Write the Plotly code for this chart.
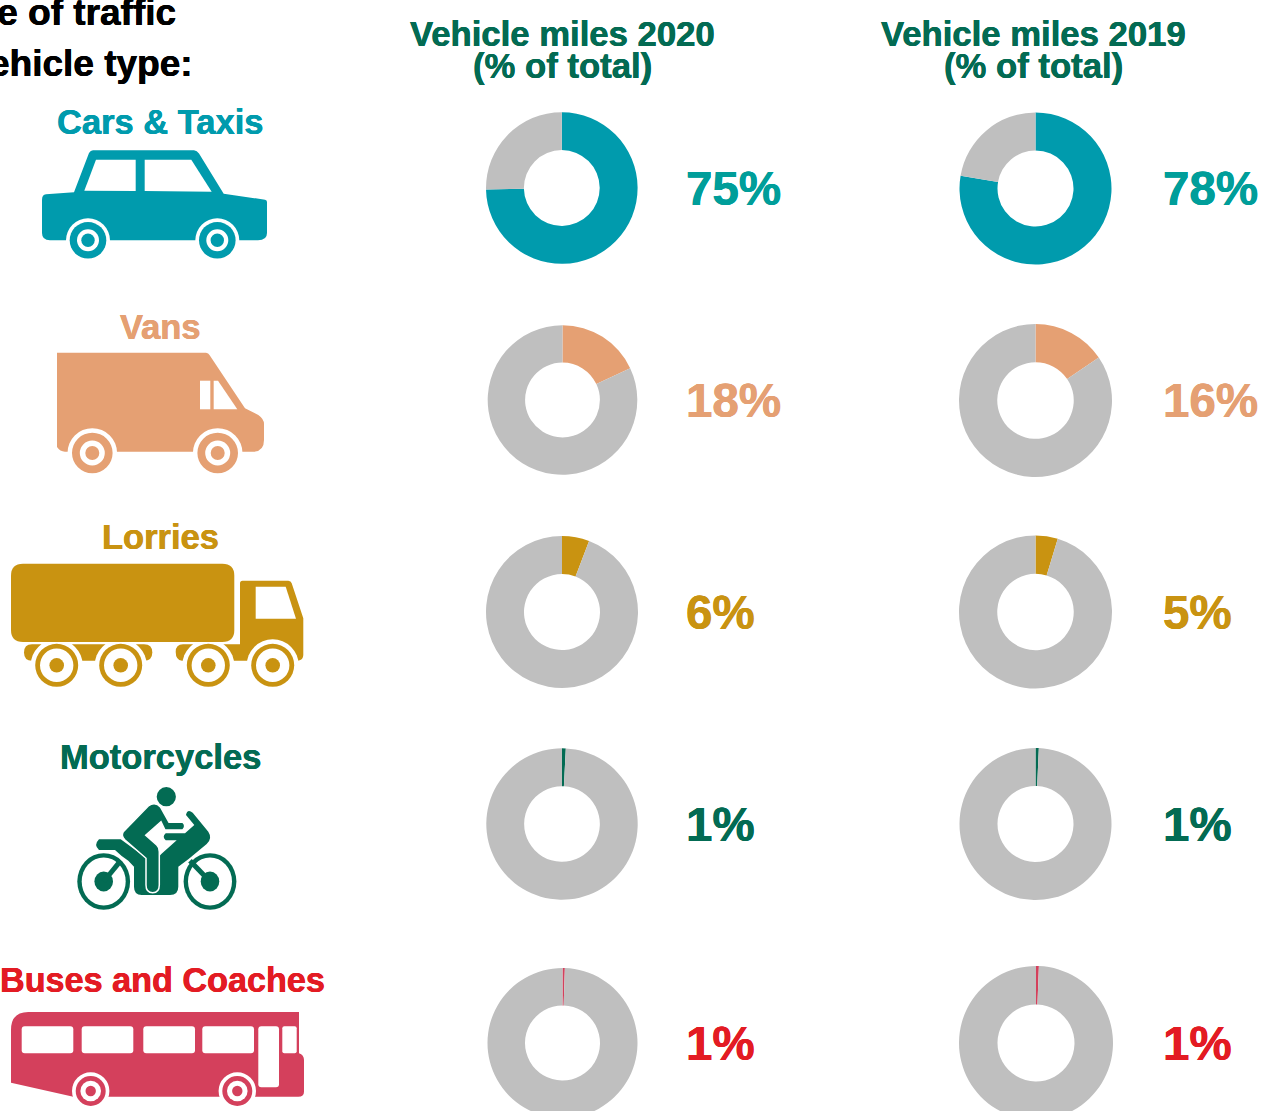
import plotly.graph_objects as go

# ---------- data ----------
vehicles = ["Cars & Taxis", "Vans", "Lorries", "Motorcycles", "Buses and Coaches"]
share_2020 = [74.7, 18.0, 5.8, 0.8, 0.5]
share_2019 = [77.7, 15.5, 4.7, 0.7, 0.6]
label_2020 = ["75%", "18%", "6%", "1%", "1%"]
label_2019 = ["78%", "16%", "5%", "1%", "1%"]
column_titles = ["Vehicle miles 2020", "Vehicle miles 2019"]
column_subtitle = "(% of total)"
heading_lines = ["Share of traffic", "by vehicle type:"]

# ---------- styles ----------
WIDTH, VIEW_H, HEIGHT = 1261, 1111, 1125
FONT = "Liberation Sans, Arial, sans-serif"
GREY = "#BFBFBF"
GREEN = "#036B53"
slice_colors = ["#009BAD", "#E5A073", "#C99311", "#036B53", "#D4405C"]
name_colors = ["#009BAD", "#E5A073", "#C99311", "#036B53", "#E31B23"]
pct_colors = ["#009E9A", "#E5A073", "#C99311", "#036B53", "#E31B23"]

donuts_2020 = [(561.8, 188, 75.8), (562.5, 400, 74.8), (562, 612, 76), (562, 824, 75.7), (562.5, 1043, 75)]
donuts_2019 = [(1035.5, 188.5, 76), (1035.5, 400.5, 76.5), (1035.5, 612, 76.5), (1035.5, 824, 76), (1036, 1043, 77)]
name_y = [121.7, 326.7, 536.7, 756.7, 979.7]
pct_y = [188, 400, 612, 824, 1043]

fig = go.Figure()


def donut(value, color, box):
    cx, cy, r = box
    fig.add_trace(go.Pie(
        values=[value, 100 - value], sort=False, direction="clockwise", rotation=0,
        hole=0.5, textinfo="none", hoverinfo="skip", showlegend=False,
        marker=dict(colors=[color, GREY], line=dict(width=0)),
        domain=dict(x=[(cx - r) / WIDTH, (cx + r) / WIDTH],
                    y=[1 - (cy + r) / HEIGHT, 1 - (cy - r) / HEIGHT]),
    ))


for i in range(5):
    donut(share_2020[i], slice_colors[i], donuts_2020[i])
    donut(share_2019[i], slice_colors[i], donuts_2019[i])

shapes, notes = [], []


def path(d, color, line=None):
    shapes.append(dict(type="path", path=d, fillcolor=color, xref="x", yref="y",
                       line=dict(width=line[0], color=line[1]) if line else dict(width=0)))


def circle(cx, cy, r, color, ry=None):
    ry = ry or r
    shapes.append(dict(type="circle", x0=cx - r, x1=cx + r, y0=cy - ry, y1=cy + ry, xref="x", yref="y",
                       fillcolor=color, line=dict(width=0)))


def rrect(x0, y0, x1, y1, r, color):
    path(f"M{x0+r},{y0} L{x1-r},{y0} Q{x1},{y0} {x1},{y0+r} L{x1},{y1-r} Q{x1},{y1} {x1-r},{y1} "
         f"L{x0+r},{y1} Q{x0},{y1} {x0},{y1-r} L{x0},{y0+r} Q{x0},{y0} {x0+r},{y0} Z", color)


def wheel(cx, cy, halo, outer, inner, hub, color):
    if halo:
        circle(cx, cy, halo, "white")
    circle(cx, cy, outer, color)
    circle(cx, cy, inner, "white")
    circle(cx, cy, hub, color)


def text(x, y, s, size, color, anchor="center"):
    notes.append(dict(x=x, y=y, xref="x", yref="y", text=f"<b>{s}</b>", showarrow=False,
                      xanchor=anchor, yanchor="middle", borderpad=0,
                      font=dict(family=FONT, size=size, color=color,
                                shadow=f"0.3px 0 0 {color}, -0.3px 0 0 {color}")))


# --- car ---
c = slice_colors[0]
path("M42,200 Q42,194.5 46,194.3 L74,192.3 L89,153 Q90.5,150.5 93,150.3 L194,150.3 Q197,150.5 199,153.5 "
     "L223.7,193.7 L265,199.7 Q267,200 267,202 L267,233 Q267,240.3 258,240.3 L50,240.3 Q42,240.3 42,233 Z", c)
path("M84.3,190.7 L96,159.7 L135.7,159.7 L135.7,191 Z", "white")
path("M144.7,159.7 L191.3,159.7 L211.7,191.7 L144.7,191 Z", "white")
for x in (88, 217.3):
    wheel(x, 240.3, 22, 18.3, 11, 6.7, c)

# --- van ---
c = slice_colors[1]
path("M57,352.7 L206,352.7 Q208.5,353 209.5,355 L245,408.3 L258.3,415 Q264,419 264,424 L264,440 "
     "Q264,451.7 253,451.7 L65,451.7 Q60,451.5 57,447 Z", c)
path("M200,380.7 L210.3,380.7 L210.3,409.3 L200,409.3 Z", "white")
path("M213.7,380.7 L218,380.7 L237.3,409.3 L213.7,409.3 Z", "white")
for x in (92.3, 217.7):
    wheel(x, 453, 24.8, 20.3, 12.5, 7, c)

# --- lorry ---
c = slice_colors[2]
path("M240,583.3 Q240,580.7 242.5,580.7 L288.3,580.7 Q291,581 291.7,583.3 L303.3,618.3 L303.3,655 "
     "Q303.3,660 298,660.7 L182,660.7 Q175.7,660 175.7,652 Q175.7,644.3 183,644.3 L240,644.3 Z", c)
path("M32,644.3 L144,644.3 Q152.3,644.3 152.3,652.5 Q152.3,660.7 144,660.7 L32,660.7 Q24,660.7 24,652.5 Q24,644.3 32,644.3 Z", c)
path("M255.7,586.7 L285.7,586.7 L296,618.7 L255.7,618.7 Z", "white")
for x in (56.7, 120.7, 208.3, 272.7):
    circle(x, 665.3, 26, "white")
rrect(11, 563.7, 234.3, 642, 12, c)
for x in (56.7, 120.7, 208.3, 272.7):
    wheel(x, 665.3, None, 21.5, 16.7, 7.3, c)


# --- motorcycle (drawn in zoom-crop units) ---
def mx(x):
    return round(x / 3, 1)


def my(y):
    return round(y / 3 + 730, 1)


def moto(segments):
    out = []
    for cmd, *pts in segments:
        out.append(cmd + " ".join(f"{mx(a)},{my(b)}" for a, b in pts))
    return " ".join(out) + " Z"


c = slice_colors[3]
for x in (311, 630):
    circle(mx(x), 881.5, 26.4, c, ry=28.3)
    circle(mx(x), 881.5, 22, "white", ry=24)
    circle(mx(x), 881.5, 9.3, c, ry=10)
shapes.append(dict(type="line", x0=mx(311), y0=881.5, x1=mx(362), y1=my(392), xref="x", yref="y", line=dict(color=c, width=5)))
shapes.append(dict(type="line", x0=mx(630), y0=881.5, x1=mx(570), y1=my(392), xref="x", yref="y", line=dict(color=c, width=5)))
path(moto([("M", (297, 328)), ("L", (362, 328)), ("L", (440, 385)), ("L", (440, 440)), ("L", (402, 410)),
           ("L", (385, 392)), ("L", (365, 378)), ("L", (345, 360)), ("L", (297, 360)),
           ("Q", (280, 345), (297, 328))]), c)
path(moto([("M", (558, 255)), ("Q", (562, 235), (578, 248)), ("L", (625, 305)), ("Q", (638, 325), (620, 342)),
           ("L", (565, 388)), ("L", (535, 410)), ("L", (535, 470)), ("Q", (535, 495), (510, 495)),
           ("L", (425, 495)), ("Q", (402, 495), (402, 470)), ("L", (402, 410)), ("L", (440, 420)),
           ("L", (484, 372)), ("L", (530, 331)), ("L", (497, 331)), ("Q", (485, 320), (497, 310)),
           ("L", (555, 310)), ("L", (583, 285))]), c)
path(moto([("M", (370, 305)), ("L", (445, 228)), ("Q", (465, 212), (482, 232)), ("L", (507, 277)),
           ("L", (548, 277)), ("Q", (560, 288), (548, 300)), ("L", (495, 300)), ("L", (483, 275)),
           ("L", (437, 316)), ("L", (470, 345)), ("Q", (478, 352), (478, 365)), ("L", (478, 465)),
           ("Q", (478, 488), (458, 488)), ("Q", (438, 488), (438, 465)), ("L", (438, 385)),
           ("L", (375, 330)), ("Q", (362, 318), (370, 305))]), c, line=(1.5, "white"))
circle(mx(499), my(200), 9.6, c)

# --- bus ---
c = slice_colors[4]
path("M11,1082.7 L11,1030 Q11,1012 28.3,1012 L299,1012 L299,1053.3 Q304,1055 304,1060 L304,1091.7 "
     "Q304,1096.7 298.3,1096.7 L73.3,1096.7 Z", c)
for x0, x1 in ((21.7, 73.3), (81.7, 133.3), (143.3, 195), (202.3, 254)):
    rrect(x0, 1026.3, x1, 1053.3, 3, "white")
rrect(258.3, 1026.3, 279, 1087.3, 3, "white")
rrect(282.3, 1026.3, 296.7, 1053.3, 2, "white")
for x in (90.7, 237.3):
    wheel(x, 1091, 18.7, 15, 10.3, 5.2, c)

# --- texts ---
text(177, 12, heading_lines[0], 37, "black", "right")
text(193.5, 63, heading_lines[1], 37, "black", "right")
for cx, title in zip((562.5, 1033), column_titles):
    text(cx, 34, title, 34.7, GREEN)
    text(cx, 66, column_subtitle, 34.7, GREEN)
for i, name in enumerate(vehicles):
    text(162 if i == 4 else 160, name_y[i], name, 34.2 if i == 4 else 34.5, name_colors[i])
    text(685, pct_y[i], label_2020[i], 47.5, pct_colors[i], "left")
    text(1162, pct_y[i], label_2019[i], 47.5, pct_colors[i], "left")

fig.update_layout(
    width=WIDTH, height=HEIGHT, margin=dict(l=0, r=0, t=0, b=0),
    paper_bgcolor="white", plot_bgcolor="rgba(0,0,0,0)", showlegend=False,
    xaxis=dict(range=[0, WIDTH], visible=False, fixedrange=True, domain=[0, 1]),
    yaxis=dict(range=[HEIGHT, 0], visible=False, fixedrange=True, domain=[0, 1]),
    shapes=shapes, annotations=notes,
)
fig.add_trace(go.Scatter(x=[0, WIDTH], y=[0, HEIGHT], mode="markers", marker=dict(opacity=0),
                         hoverinfo="skip", showlegend=False))
fig.write_html("out.html", config=dict(displayModeBar=False),
               post_script="document.body.style.margin='0';document.documentElement.style.overflow='hidden';document.body.style.overflow='hidden';")
